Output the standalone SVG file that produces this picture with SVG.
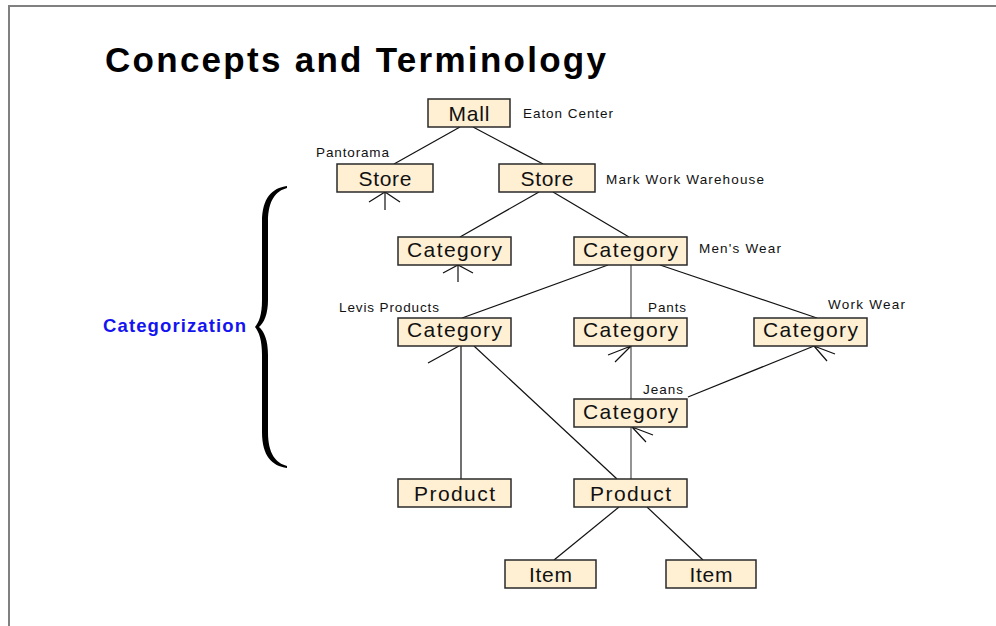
<svg xmlns="http://www.w3.org/2000/svg" width="996" height="626" viewBox="0 0 996 626">
  <style>
    .box { fill: #FFF0D4; stroke: #2a2a2a; stroke-width: 1.5; }
    .lbl { font-family: "Liberation Sans", Arial, sans-serif; font-size: 21px; fill: #111; text-anchor: middle; }
    .note { font-family: "Liberation Sans", Arial, sans-serif; font-size: 13.5px; fill: #111; }
    .edge { stroke: #111; stroke-width: 1.2; fill: none; }
    .edge.grey { stroke: #666; stroke-width: 1.4; }
    .frame { stroke: #808080; stroke-width: 2; fill: none; }
  </style>

  <rect width="996" height="626" fill="#ffffff"/>
  <path class="frame" d="M9 626 V6 H996"/>

  <text x="105" y="72" font-family="Liberation Sans, Arial, sans-serif" font-weight="bold" font-size="35" fill="#000" textLength="501" lengthAdjust="spacing">Concepts and Terminology</text>

  <!-- categorization bracket -->
  <g id="categorization">
    <text x="103" y="332" font-family="Liberation Sans, Arial, sans-serif" font-weight="bold" font-size="18.5" fill="#1414F0" textLength="143" lengthAdjust="spacing">Categorization</text>
    <path fill="#000" d="M287 186 C272 188 262 198 262 222 L262 300 C262 315 259 322 255 327 C259 332 262 340 262 355 L262 432 C262 456 272 466 287 468 L287 466 C276 463 268 454 268 432 L268 355 C268 340 264 331 259 327 C264 323 268 314 268 300 L268 222 C268 200 276 191 287 188 Z"/>
  </g>

  <!-- connectors -->
  <g id="connectors">
    <line class="edge" x1="460" y1="127" x2="394" y2="164"/>
    <line class="edge" x1="473" y1="127" x2="543" y2="164"/>
    <line class="edge" x1="539" y1="192" x2="460" y2="237"/>
    <line class="edge" x1="553" y1="192" x2="629" y2="237"/>
    <line class="edge" x1="608" y1="265" x2="462" y2="318"/>
    <line class="edge grey" x1="631" y1="265" x2="631" y2="318"/>
    <line class="edge" x1="660" y1="265" x2="817" y2="318"/>
    <line class="edge grey" x1="631" y1="346" x2="631" y2="399"/>
    <line class="edge" x1="688" y1="397" x2="814" y2="346"/>
    <line class="edge grey" x1="631" y1="427" x2="631" y2="479"/>
    <line class="edge" x1="461" y1="346" x2="461" y2="479"/>
    <line class="edge" x1="474" y1="346" x2="617" y2="479"/>
    <line class="edge" x1="619" y1="507" x2="554" y2="560"/>
    <line class="edge" x1="647" y1="507" x2="703" y2="560"/>
    <!-- open arrow stubs -->
    <path class="edge" d="M385 210 V192 M369 202 L385 192 L400 202"/>
    <path class="edge" d="M458 282 V265 M443 273 L458 265 L473 273"/>
    <path class="edge" d="M428 363 L459 346"/>
    <path class="edge" d="M608 355 L631 346 L615 362"/>
    <path class="edge" d="M835 354 L814 346 L827 361"/>
    <path class="edge" d="M653 435 L632 427 L646 442"/>
  </g>

  <g id="mall">
    <rect class="box" x="428" y="99" width="82" height="28"/>
    <text class="lbl" x="469" y="121" textLength="41">Mall</text>
    <text class="note" x="523" y="118" textLength="90">Eaton Center</text>
  </g>
  <g id="store-pantorama">
    <rect class="box" x="337" y="164" width="96" height="28"/>
    <text class="lbl" x="385" y="186" textLength="53">Store</text>
    <text class="note" x="316" y="157" textLength="73">Pantorama</text>
  </g>
  <g id="store-mark-work">
    <rect class="box" x="499" y="164" width="96" height="28"/>
    <text class="lbl" x="547" y="186" textLength="53">Store</text>
    <text class="note" x="606" y="184" textLength="158">Mark Work Warehouse</text>
  </g>
  <g id="category-a">
    <rect class="box" x="398" y="237" width="113" height="28"/>
    <text class="lbl" x="454.5" y="257" textLength="95">Category</text>
  </g>
  <g id="category-mens-wear">
    <rect class="box" x="574" y="237" width="113" height="28"/>
    <text class="lbl" x="630.5" y="257" textLength="95">Category</text>
    <text class="note" x="699" y="253" textLength="82">Men's Wear</text>
  </g>
  <g id="category-levis">
    <rect class="box" x="398" y="318" width="113" height="28"/>
    <text class="lbl" x="454.5" y="337" textLength="95">Category</text>
    <text class="note" x="339" y="312" textLength="100">Levis Products</text>
  </g>
  <g id="category-pants">
    <rect class="box" x="574" y="318" width="113" height="28"/>
    <text class="lbl" x="630.5" y="337" textLength="95">Category</text>
    <text class="note" x="648" y="312" textLength="38">Pants</text>
  </g>
  <g id="category-work-wear">
    <rect class="box" x="754" y="318" width="113" height="28"/>
    <text class="lbl" x="810.5" y="337" textLength="95">Category</text>
    <text class="note" x="828" y="309" textLength="77">Work Wear</text>
  </g>
  <g id="category-jeans">
    <rect class="box" x="574" y="399" width="113" height="28"/>
    <text class="lbl" x="630.5" y="419" textLength="95">Category</text>
    <text class="note" x="643" y="394" textLength="40">Jeans</text>
  </g>
  <g id="product-a">
    <rect class="box" x="398" y="479" width="113" height="28"/>
    <text class="lbl" x="454.5" y="501" textLength="81">Product</text>
  </g>
  <g id="product-b">
    <rect class="box" x="574" y="479" width="113" height="28"/>
    <text class="lbl" x="630.5" y="501" textLength="81">Product</text>
  </g>
  <g id="item-a">
    <rect class="box" x="505" y="560" width="91" height="28"/>
    <text class="lbl" x="550.5" y="582" textLength="43">Item</text>
  </g>
  <g id="item-b">
    <rect class="box" x="666" y="560" width="90" height="28"/>
    <text class="lbl" x="711" y="582" textLength="43">Item</text>
  </g>
</svg>
